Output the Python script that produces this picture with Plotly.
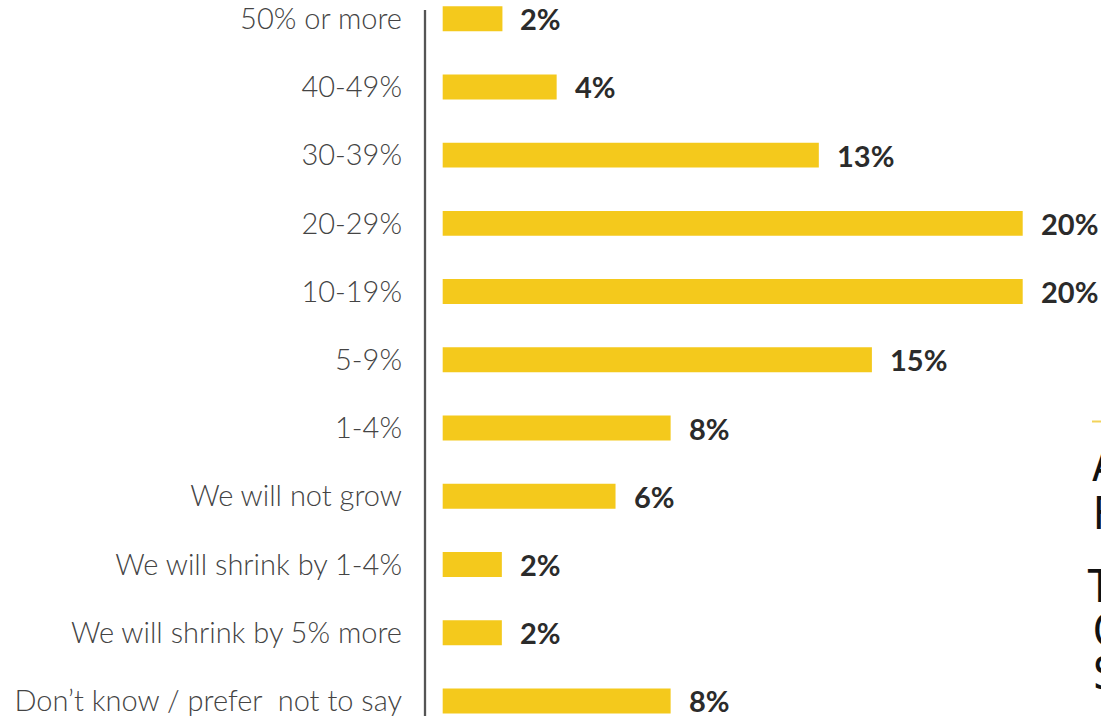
import plotly.graph_objects as go

categories = ["50% or more", "40-49%", "30-39%", "20-29%", "10-19%", "5-9%", "1-4%",
              "We will not grow", "We will shrink by 1-4%", "We will shrink by 5% more",
              "Don\u2019t know / prefer  not to say"]
values = [2.06, 3.93, 12.97, 20.0, 20.0, 14.8, 7.86, 5.96, 2.04, 2.04, 7.86]
value_labels = ["2%", "4%", "13%", "20%", "20%", "15%", "8%", "6%", "2%", "2%", "8%"]
side_letters = ["A", "F", "T", "C", "S"]
side_letter_x = [1090, 1091, 1085, 1091, 1091]
side_letter_y = [465, 513, 586, 630, 673]

W, H = 1101, 716
L = 425
BAR = "#F4C91C"

fig = go.Figure()
fig.add_trace(go.Bar(
    y=categories, x=values, orientation="h",
    marker=dict(color=BAR, line=dict(width=0)),
    width=0.366, hoverinfo="skip",
))

for c, v, t in zip(categories, values, value_labels):
    fig.add_annotation(x=v, y=c, xref="x", yref="y", text=t, showarrow=False,
                       xanchor="left", yanchor="middle", xshift=16,
                       font=dict(family="Lato", size=29, color="#2b2b2b", weight=700))

# axis line
fig.add_shape(type="line", xref="paper", yref="paper", x0=0, x1=0,
              y0=0, y1=1 - 10 / H, line=dict(color="#555555", width=2.3))

# cut-off elements at right edge
for letter, xp, yp in zip(side_letters, side_letter_x, side_letter_y):
    fig.add_annotation(x=(xp - L) / (W - L), y=1 - yp / H, xref="paper", yref="paper",
                       text=letter, showarrow=False, xanchor="left", yanchor="middle",
                       font=dict(family="Liberation Sans Narrow, DejaVu Sans Condensed, sans-serif",
                                 size=44, color="#111111", weight=300))
fig.add_shape(type="line", xref="paper", yref="paper",
              x0=(1092 - L) / (W - L), x1=1.01, y0=1 - 421.5 / H, y1=1 - 421.5 / H,
              line=dict(color="#F2D35A", width=2))

fig.update_layout(
    width=W, height=H,
    margin=dict(l=L, r=0, t=0, b=0),
    paper_bgcolor="white", plot_bgcolor="white",
    showlegend=False,
    xaxis=dict(range=[-0.61, 22.70], visible=False, fixedrange=True),
    yaxis=dict(range=[10.221, -0.274], showgrid=False, zeroline=False, showline=False,
               ticks="", ticklabelstandoff=22,
               tickfont=dict(family="Lato", size=29, color="#444444", weight=300)),
)

fig.write_html("out.html")
